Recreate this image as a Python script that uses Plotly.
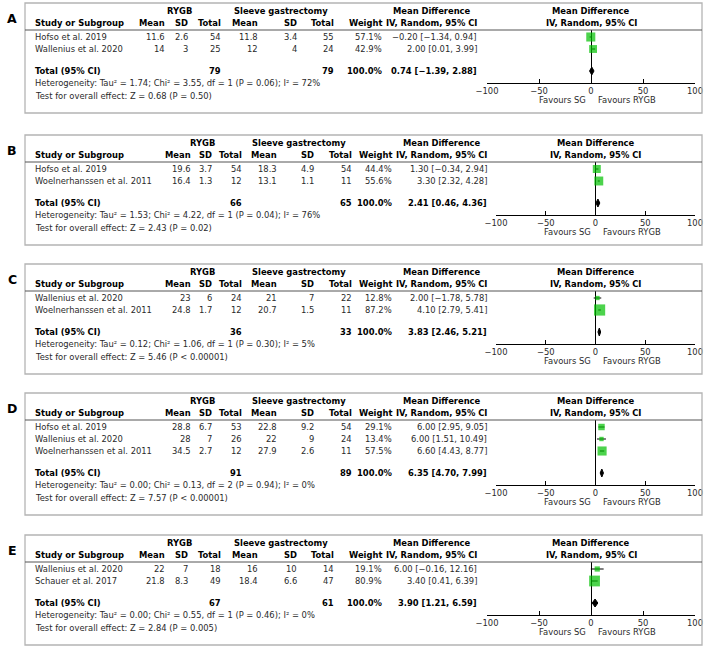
import plotly.graph_objects as go

# ---------------- data ----------------
panels = ["A", "B", "C", "D", "E"]
study = [
    ["Hofso et al. 2019", "Wallenius et al. 2020"],
    ["Hofso et al. 2019", "Woelnerhanssen et al. 2011"],
    ["Wallenius et al. 2020", "Woelnerhanssen et al. 2011"],
    ["Hofso et al. 2019", "Wallenius et al. 2020", "Woelnerhanssen et al. 2011"],
    ["Wallenius et al. 2020", "Schauer et al. 2017"],
]
rygb_mean = [[11.6, 14], [19.6, 16.4], [23, 24.8], [28.8, 28, 34.5], [22, 21.8]]
rygb_sd = [[2.6, 3], [3.7, 1.3], [6, 1.7], [6.7, 7, 2.7], [7, 8.3]]
rygb_n = [[54, 25], [54, 12], [24, 12], [53, 26, 12], [18, 49]]
sg_mean = [[11.8, 12], [18.3, 13.1], [21, 20.7], [22.8, 22, 27.9], [16, 18.4]]
sg_sd = [[3.4, 4], [4.9, 1.1], [7, 1.5], [9.2, 9, 2.6], [10, 6.6]]
sg_n = [[55, 24], [54, 11], [22, 11], [54, 24, 11], [14, 47]]
weight = [[57.1, 42.9], [44.4, 55.6], [12.8, 87.2], [29.1, 13.4, 57.5], [19.1, 80.9]]
md = [[-0.20, 2.00], [1.30, 3.30], [2.00, 4.10], [6.00, 6.00, 6.60], [6.00, 3.40]]
md_lo = [[-1.34, 0.01], [-0.34, 2.32], [-1.78, 2.79], [2.95, 1.51, 4.43], [-0.16, 0.41]]
md_hi = [[0.94, 3.99], [2.94, 4.28], [5.78, 5.41], [9.05, 10.49, 8.77], [12.16, 6.39]]
total_rygb = [79, 66, 36, 91, 67]
total_sg = [79, 65, 33, 89, 61]
pooled_md = [0.74, 2.41, 3.83, 6.35, 3.90]
pooled_lo = [-1.39, 0.46, 2.46, 4.70, 1.21]
pooled_hi = [2.88, 4.36, 5.21, 7.99, 6.59]
tau2 = ["1.74", "1.53", "0.12", "0.00", "0.00"]
chi2 = ["3.55", "4.22", "1.06", "0.13", "0.55"]
df_het = [1, 1, 1, 2, 1]
p_het = ["0.06", "0.04", "0.30", "0.94", "0.46"]
i2 = [72, 76, 5, 0, 0]
z_val = ["0.68", "2.43", "5.46", "7.57", "2.84"]
p_z = ["P = 0.50", "P = 0.02", "P < 0.00001", "P < 0.00001", "P = 0.005"]
x_ticks = [-100, -50, 0, 50, 100]

# ---------------- layout constants ----------------
W, H = 709, 653
FONT = "DejaVu Sans, Verdana, sans-serif"
FS = 8.4
TXT = "#2a2a2a"
GREEN = "#00C000"
panel_top = [3, 135, 264, 393, 535]
cols_short = dict(rm=166, rsd=189, rt=222, sm=259, ssd=298, st=335, w=383, ci=478,
                  f0=487, f1=695, rh=179, sh=281)
cols_long = dict(rm=192, rsd=213, rt=243, sm=278, ssd=315, st=353, w=393, ci=488,
                 f0=496, f1=695, rh=202, sh=299)
col_sets = [cols_short, cols_long, cols_long, cols_long, cols_short]
BOX_L, BOX_R = 25, 702
STUDY_X = 34


def px(x):
    return x / W


def py(y):
    return 1 - y / H


def fmt(v):
    return f"{v:g}"


def fmt2(v):
    return f"{v:.2f}".replace("-", "\u2212")


annotations = []
shapes = []
fig = go.Figure()


def txt(x, y, s, anchor="left", bold=False, color=TXT, size=FS):
    annotations.append(dict(
        x=px(x), y=py(y), xref="paper", yref="paper", text=f"<b>{s}</b>" if bold else s,
        showarrow=False, xanchor=anchor, yanchor="middle", borderpad=0,
        font=dict(family=FONT, size=size, color=color)))


for k, p in enumerate(panels):
    c = col_sets[k]
    top = panel_top[k]
    n = len(study[k])
    y_grp = top + 8
    y_hdr = top + 20
    y_line = top + 27
    rows = [top + 34 + 12 * i for i in range(n)]
    y_tot = rows[-1] + 22
    y_het = y_tot + 12
    y_test = y_tot + 25
    y_axis = y_tot + 12
    bottom = y_test + 17

    # panel letter
    txt(12, top + 15, p, anchor="center", bold=True, color="#000", size=12.5)
    # box and header line
    shapes.append(dict(type="rect", xref="paper", yref="paper", x0=px(BOX_L), x1=px(BOX_R),
                       y0=py(bottom), y1=py(top), line=dict(color="#b4b4b4", width=1.3)))
    shapes.append(dict(type="line", xref="paper", yref="paper", x0=px(BOX_L), x1=px(BOX_R),
                       y0=py(y_line), y1=py(y_line), line=dict(color="#555555", width=1)))

    # headers
    txt(c["rh"], y_grp, "RYGB", anchor="center", bold=True, color="#000")
    txt(c["sh"], y_grp, "Sleeve gastrectomy", anchor="center", bold=True, color="#000")
    txt(c["ci"] - 46, y_grp, "Mean Difference", anchor="center", bold=True, color="#000")
    fc = (c["f0"] + c["f1"]) / 2
    txt(fc, y_grp, "Mean Difference", anchor="center", bold=True, color="#000")
    txt(STUDY_X, y_hdr, "Study or Subgroup", bold=True, color="#000")
    for key, lab in [("rm", "Mean"), ("rsd", "SD"), ("rt", "Total"),
                     ("sm", "Mean"), ("ssd", "SD"), ("st", "Total"), ("w", "Weight"),
                     ("ci", "IV, Random, 95% CI")]:
        txt(c[key], y_hdr, lab, anchor="right", bold=True, color="#000")
    txt(fc, y_hdr, "IV, Random, 95% CI", anchor="center", bold=True, color="#000")

    # study rows
    for i in range(n):
        y = rows[i]
        txt(STUDY_X, y, study[k][i])
        txt(c["rm"], y, fmt(rygb_mean[k][i]), "right")
        txt(c["rsd"], y, fmt(rygb_sd[k][i]), "right")
        txt(c["rt"], y, fmt(rygb_n[k][i]), "right")
        txt(c["sm"], y, fmt(sg_mean[k][i]), "right")
        txt(c["ssd"], y, fmt(sg_sd[k][i]), "right")
        txt(c["st"], y, fmt(sg_n[k][i]), "right")
        txt(c["w"], y, f"{weight[k][i]:.1f}%", "right")
        txt(c["ci"], y, f"{fmt2(md[k][i])} [{fmt2(md_lo[k][i])}, {fmt2(md_hi[k][i])}]", "right")

    # total row
    txt(STUDY_X, y_tot, "Total (95% CI)", bold=True, color="#000")
    txt(c["rt"], y_tot, str(total_rygb[k]), "right", bold=True, color="#000")
    txt(c["st"], y_tot, str(total_sg[k]), "right", bold=True, color="#000")
    txt(c["w"], y_tot, f"{sum(weight[k]):.1f}%", "right", bold=True, color="#000")
    txt(c["ci"], y_tot, f"{fmt2(pooled_md[k])} [{fmt2(pooled_lo[k])}, {fmt2(pooled_hi[k])}]",
        "right", bold=True, color="#000")
    txt(STUDY_X, y_het, f"Heterogeneity: Tau\u00b2 = {tau2[k]}; Chi\u00b2 = {chi2[k]}, "
                        f"df = {df_het[k]} (P = {p_het[k]}); I\u00b2 = {i2[k]}%")
    txt(STUDY_X, y_test, f"Test for overall effect: Z = {z_val[k]} ({p_z[k]})")

    # forest axes
    sfx = "" if k == 0 else str(k + 1)
    xa, ya = "x" + sfx, "y" + sfx
    fig.update_layout(**{
        "xaxis" + sfx: dict(domain=[px(c["f0"]), px(c["f1"])], range=[-100, 100], anchor=ya,
                            tickvals=x_ticks, ticks="inside", ticklen=4, tickcolor="#000",
                            tickwidth=1, showline=True, linecolor="#000", linewidth=1,
                            zeroline=True, zerolinecolor="#000", zerolinewidth=1,
                            showgrid=False, fixedrange=True, automargin=False,
                            tickfont=dict(family=FONT, size=FS, color=TXT)),
        "yaxis" + sfx: dict(domain=[py(y_axis), py(y_line)], range=[y_axis, y_line],
                            anchor=xa, visible=False, showgrid=False, zeroline=False,
                            fixedrange=True, automargin=False),
    })
    # study squares with CI whiskers
    fig.add_trace(go.Scatter(
        x=md[k], y=rows, xaxis=xa, yaxis=ya, mode="markers", cliponaxis=False,
        marker=dict(symbol="square", color=GREEN, size=[1.2 * w ** 0.5 for w in weight[k]],
                    line=dict(width=0)),
        error_x=dict(type="data", symmetric=False,
                     array=[h - m for h, m in zip(md_hi[k], md[k])],
                     arrayminus=[m - l for m, l in zip(md[k], md_lo[k])],
                     thickness=1, width=0, color="#000"),
        showlegend=False, hoverinfo="skip"))
    # pooled diamond
    dh = 4
    fig.add_trace(go.Scatter(
        x=[pooled_lo[k], pooled_md[k], pooled_hi[k], pooled_md[k], pooled_lo[k]],
        y=[y_tot, y_tot - dh, y_tot, y_tot + dh, y_tot],
        xaxis=xa, yaxis=ya, mode="lines", fill="toself", fillcolor="#000",
        line=dict(color="#000", width=1), showlegend=False, hoverinfo="skip"))
    # favours labels
    for s, anc, sh in [("Favours SG", "right", -4), ("Favours RYGB", "left", 6)]:
        annotations.append(dict(x=0, xref=xa, y=py(y_axis + 17), yref="paper", text=s,
                                showarrow=False, xanchor=anc, yanchor="middle", xshift=sh,
                                borderpad=0, font=dict(family=FONT, size=FS, color=TXT)))

fig.update_layout(width=W, height=H, autosize=False,
                  margin=dict(l=0, r=0, t=0, b=0, pad=0, autoexpand=False),
                  paper_bgcolor="white", plot_bgcolor="rgba(0,0,0,0)",
                  annotations=annotations, shapes=shapes, showlegend=False)
fig.write_html("out.html", config={"displayModeBar": False, "staticPlot": True},
               post_script="document.body.style.margin='0';document.body.style.padding='0';")
